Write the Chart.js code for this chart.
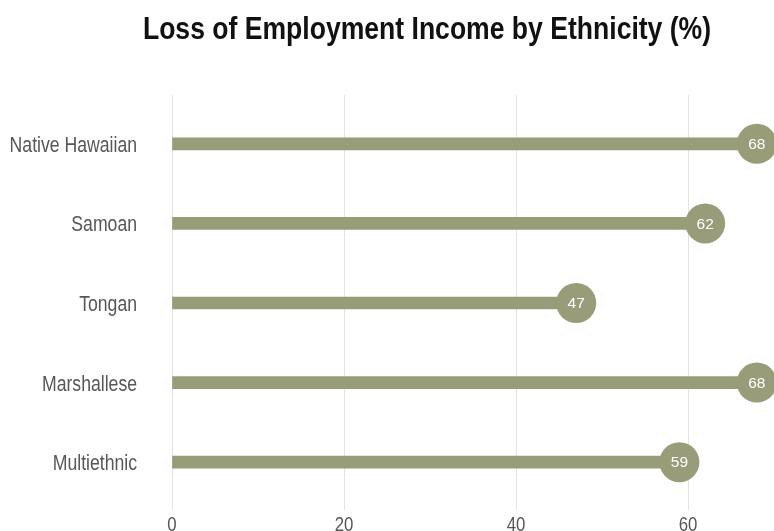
<!DOCTYPE html>
<html>
<head>
<meta charset="utf-8">
<style>
  html, body { margin: 0; padding: 0; background: #ffffff; }
  #wrap { width: 774px; height: 531px; position: relative; }
</style>
<script src="https://cdn.jsdelivr.net/npm/chart.js@4/dist/chart.umd.min.js"></script>
</head>
<body>
<div id="wrap"><canvas id="chart" width="774" height="531"></canvas></div>
<script>
// Share of respondents reporting loss of employment income, by ethnicity
const categories = ['Native Hawaiian', 'Samoan', 'Tongan', 'Marshallese', 'Multiethnic'];
const lossPercent = [68, 62, 47, 68, 59];
const xTicks = [0, 20, 40, 60];

const titleText = 'Loss of Employment Income by Ethnicity (%)';
const olive = '#989c78';
const sans = '"Liberation Sans", Arial, sans-serif';

// Narrow-style text: a regular sans face squeezed horizontally
function narrowText(ctx, text, x, y, font, color, align, squeeze) {
  ctx.save();
  ctx.font = font;
  ctx.fillStyle = color;
  ctx.textAlign = align;
  ctx.textBaseline = 'alphabetic';
  ctx.translate(x, y);
  ctx.scale(squeeze, 1);
  ctx.fillText(text, 0, 0);
  ctx.restore();
}

// Title and axis labels
const textPlugin = {
  id: 'narrowLabels',
  afterDraw(chart) {
    const ctx = chart.ctx;
    const xs = chart.scales.x;
    const ys = chart.scales.y;
    narrowText(ctx, titleText, 427, 39, 'bold 32px ' + sans, '#111111', 'center', 0.83);
    categories.forEach((name, i) => {
      narrowText(ctx, name, xs.left - 35, ys.getPixelForValue(i) + 8, '21.5px ' + sans, '#575757', 'right', 0.82);
    });
    xTicks.forEach(v => {
      narrowText(ctx, String(v), xs.getPixelForValue(v), xs.top + 29, '20.5px ' + sans, '#575757', 'center', 0.82);
    });
  }
};

// Value written inside each lollipop head
const headLabels = {
  id: 'headLabels',
  afterDatasetsDraw(chart) {
    const meta = chart.getDatasetMeta(1);
    const ctx = chart.ctx;
    ctx.save();
    ctx.font = '15.5px ' + sans;
    ctx.fillStyle = '#ffffff';
    ctx.textAlign = 'center';
    ctx.textBaseline = 'middle';
    meta.data.forEach((pt, i) => {
      ctx.fillText(String(lossPercent[i]), pt.x, pt.y + 1);
    });
    ctx.restore();
  }
};

const keepTicks = (scale) => {
  scale.ticks = xTicks.map(v => ({ value: v }));
};

new Chart(document.getElementById('chart'), {
  type: 'bar',
  data: {
    labels: categories,
    datasets: [
      {
        label: 'stem',
        data: lossPercent,
        backgroundColor: olive,
        borderWidth: 0,
        barThickness: 12,
        order: 2
      },
      {
        label: 'head',
        type: 'line',
        data: lossPercent,
        showLine: false,
        pointRadius: 20,
        pointHoverRadius: 20,
        pointBackgroundColor: olive,
        pointBorderWidth: 0,
        clip: false,
        order: 1
      }
    ]
  },
  options: {
    indexAxis: 'y',
    responsive: false,
    animation: false,
    events: [],
    layout: { autoPadding: false, padding: { top: 95, left: 0, right: 0, bottom: 0 } },
    plugins: {
      legend: { display: false },
      tooltip: { enabled: false },
      title: { display: false }
    },
    scales: {
      x: {
        type: 'linear',
        position: 'bottom',
        min: 0,
        max: 70,
        afterBuildTicks: keepTicks,
        afterFit(scale) {
          scale.height = 29;
          scale.paddingLeft = 0;
          scale.paddingRight = 0;
        },
        border: { display: false },
        grid: { color: '#e3e3e3', lineWidth: 1, drawTicks: true, tickLength: 8 },
        ticks: { display: false }
      },
      xTop: {
        type: 'linear',
        position: 'top',
        axis: 'x',
        min: 0,
        max: 70,
        afterBuildTicks: keepTicks,
        afterFit(scale) {
          scale.height = 9;
          scale.paddingLeft = 0;
          scale.paddingRight = 0;
        },
        border: { display: false },
        grid: { color: '#e3e3e3', lineWidth: 1, drawOnChartArea: false, drawTicks: true, tickLength: 9 },
        ticks: { display: false }
      },
      y: {
        type: 'category',
        position: 'left',
        afterFit(scale) {
          scale.width = 172;
          scale.paddingTop = 0;
          scale.paddingBottom = 0;
        },
        border: { display: false },
        grid: { display: false, drawTicks: false },
        ticks: { display: false }
      }
    }
  },
  plugins: [textPlugin, headLabels]
});
</script>
</body>
</html>
